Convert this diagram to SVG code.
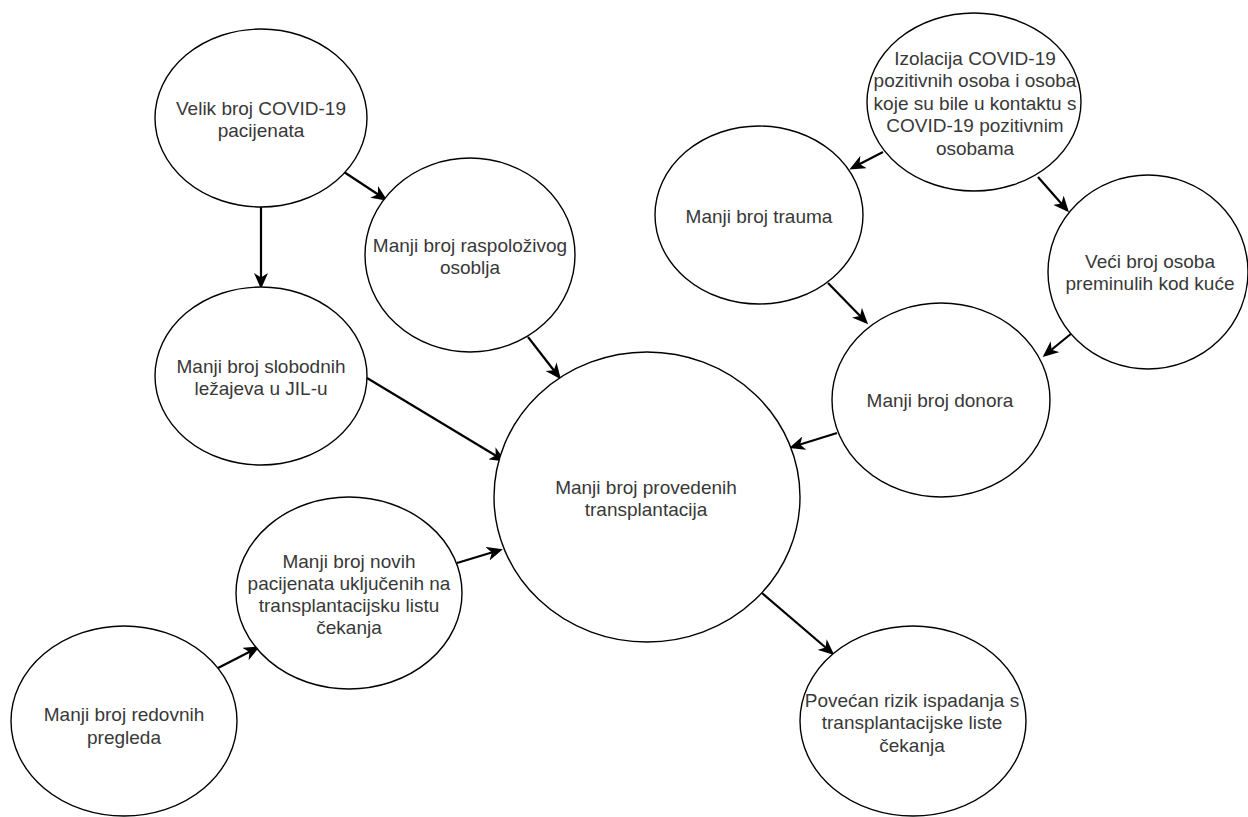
<svg xmlns="http://www.w3.org/2000/svg" width="1248" height="817" viewBox="0 0 1248 817">
<defs>
<style>
.node ellipse{fill:#ffffff;stroke:#000000;stroke-width:1.4}
.node text{font-family:"Liberation Sans",Arial,Helvetica,sans-serif;font-size:19px;fill:#383838;text-anchor:middle}
.edge{fill:none;stroke:#000000;stroke-width:2.2;marker-end:url(#arrow)}
</style>
<marker id="arrow" markerUnits="userSpaceOnUse" markerWidth="16" markerHeight="14" viewBox="0 0 16 14" refX="13" refY="7" orient="auto">
<path d="M0,0 L16,7 L0,14 L4.5,7 z" fill="#000000"/>
</marker>
</defs>
<rect width="1248" height="817" fill="#ffffff"/>
<g id="connectors">
<path class="edge" d="M344,172 L385,199"/>
<path class="edge" d="M261,207 L261,286"/>
<path class="edge" d="M528,337 L559,377"/>
<path class="edge" d="M367,378 L503,460"/>
<path class="edge" d="M457,563 L500,550"/>
<path class="edge" d="M218,668 L257,648"/>
<path class="edge" d="M762,593 L832,653"/>
<path class="edge" d="M883,152 L852,168"/>
<path class="edge" d="M1038,177 L1067,210"/>
<path class="edge" d="M828,283 L866,322"/>
<path class="edge" d="M1072,333 L1045,355"/>
<path class="edge" d="M837,433 L792,447"/>
</g>
<g id="n1" class="node">
<ellipse cx="261" cy="118" rx="106" ry="89"/>
<text x="261" y="114.5">Velik broj COVID-19</text>
<text x="261" y="136.5">pacijenata</text>
</g>
<g id="n2" class="node">
<ellipse cx="470" cy="255" rx="105" ry="97"/>
<text x="470" y="251.5">Manji broj raspoloživog</text>
<text x="470" y="273.5">osoblja</text>
</g>
<g id="n3" class="node">
<ellipse cx="261" cy="376" rx="106" ry="89"/>
<text x="261" y="372.5">Manji broj slobodnih</text>
<text x="261" y="395">ležajeva u JIL-u</text>
</g>
<g id="n4" class="node">
<ellipse cx="647" cy="497" rx="153" ry="145"/>
<text x="646" y="493.5">Manji broj provedenih</text>
<text x="646" y="515.5">transplantacija</text>
</g>
<g id="n5" class="node">
<ellipse cx="349" cy="593" rx="113" ry="96"/>
<text x="349" y="567.5">Manji broj novih</text>
<text x="349" y="589.5">pacijenata uključenih na</text>
<text x="349" y="611.5">transplantacijsku listu</text>
<text x="349" y="634">čekanja</text>
</g>
<g id="n6" class="node">
<ellipse cx="124" cy="721" rx="113" ry="95"/>
<text x="124" y="721">Manji broj redovnih</text>
<text x="124" y="743.5">pregleda</text>
</g>
<g id="n7" class="node">
<ellipse cx="913" cy="721" rx="113" ry="95"/>
<text x="912" y="706.5">Povećan rizik ispadanja s</text>
<text x="912" y="729">transplantacijske liste</text>
<text x="912" y="751.5">čekanja</text>
</g>
<g id="n8" class="node">
<ellipse cx="974" cy="102" rx="107" ry="89"/>
<text x="975" y="64.5">Izolacija COVID-19</text>
<text x="975" y="87">pozitivnih osoba i osoba</text>
<text x="975" y="109.5">koje su bile u kontaktu s</text>
<text x="975" y="132">COVID-19 pozitivnim</text>
<text x="975" y="154.5">osobama</text>
</g>
<g id="n9" class="node">
<ellipse cx="759" cy="215" rx="104" ry="89"/>
<text x="759" y="222.5">Manji broj trauma</text>
</g>
<g id="n10" class="node">
<ellipse cx="1148" cy="272" rx="100" ry="97"/>
<text x="1150" y="267.5">Veći broj osoba</text>
<text x="1150" y="289.5">preminulih kod kuće</text>
</g>
<g id="n11" class="node">
<ellipse cx="941" cy="400" rx="109" ry="97"/>
<text x="940" y="406.5">Manji broj donora</text>
</g>
</svg>
